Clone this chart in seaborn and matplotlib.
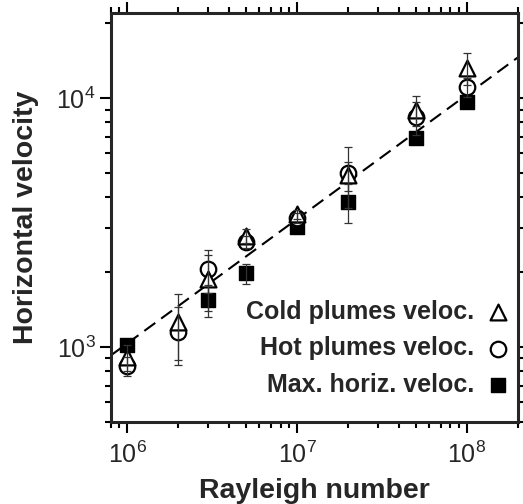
import matplotlib
matplotlib.use('Agg')
import matplotlib.pyplot as plt
import numpy as np
import seaborn as sns

# Rayleigh numbers of the runs
rayleigh = [1e6, 2e6, 3e6, 5e6, 1e7, 2e7, 5e7, 1e8]

# Cold plumes velocity (triangles) and error
cold_vel = [910, 1260, 1870, 2800, 3420, 4900, 8950, 13200]
cold_err = [110, 370, 470, 180, 150, 650, 1250, 1950]

# Hot plumes velocity (circles) and error
hot_vel = [840, 1150, 2050, 2650, 3300, 5000, 8400, 11100]
hot_err = [75, 300, 400, 150, 150, 1380, 1300, 1000]

# Max. horizontal velocity (squares) and error
max_ra = [1e6, 3e6, 5e6, 1e7, 2e7, 5e7, 1e8]
max_vel = [1020, 1550, 1980, 3050, 3840, 6900, 9700]
max_err = [0, 230, 180, 0, 680, 0, 0]

# Dashed fit line, end points
fit_ra = [8e5, 2e8]
fit_vel = [925, 14600]

sns.set_theme(style='ticks')
plt.rcParams['font.family'] = ['Liberation Sans', 'DejaVu Sans']
plt.rcParams['mathtext.fontset'] = 'custom'
plt.rcParams['mathtext.rm'] = 'Liberation Sans'
plt.rcParams['axes.linewidth'] = 2.2

fig = plt.figure(figsize=(5.23, 5.04), dpi=100)
ax = fig.add_axes([0.2117, 0.1627, 0.7787, 0.8115])

sns.lineplot(x=fit_ra, y=fit_vel, color='black', linestyle=(0, (6.5, 3.5)),
             linewidth=1.5, ax=ax, zorder=2)

sns.scatterplot(x=max_ra, y=max_vel, marker='s', s=95, color='black',
                edgecolor='black', linewidth=1, ax=ax, zorder=3,
                label='Max. horiz. veloc.')
sns.scatterplot(x=rayleigh, y=hot_vel, marker='o', s=125, color='white',
                edgecolor='black', linewidth=1.6, ax=ax, zorder=4,
                label='Hot plumes veloc.')
sns.scatterplot(x=rayleigh, y=cold_vel, marker='^', s=130, color='white',
                edgecolor='black', linewidth=1.6, ax=ax, zorder=5,
                label='Cold plumes veloc.')

# error bars on top of the markers
ebar = dict(fmt='none', ecolor='#333333', elinewidth=0.9, capsize=3, capthick=0.9, zorder=6)
ax.errorbar(rayleigh, cold_vel, yerr=cold_err, **ebar)
ax.errorbar(rayleigh, hot_vel, yerr=hot_err, **ebar)
m_ra = [r for r, e in zip(max_ra, max_err) if e > 0]
m_v = [v for v, e in zip(max_vel, max_err) if e > 0]
m_e = [e for e in max_err if e > 0]
ax.errorbar(m_ra, m_v, yerr=m_e, **ebar)

ax.set_xscale('log')
ax.set_yscale('log')
ax.set_xlim(8e5, 2e8)
ax.set_ylim(500, 22000)

ax.tick_params(which='both', direction='out', top=True, right=True,
               labelsize=18, color='black', width=1.5)
ax.tick_params(which='major', length=8, pad=3)
ax.tick_params(axis='x', which='major', pad=6)
ax.tick_params(which='minor', length=4)

ax.set_xlabel('Rayleigh number', fontsize=20.5, fontweight='bold', labelpad=7)
ax.set_ylabel('Horizontal velocity', fontsize=20.5, fontweight='bold', labelpad=12)

handles, labels = ax.get_legend_handles_labels()
order = [2, 1, 0]
ax.legend([handles[i] for i in order], [labels[i] for i in order],
          loc='lower right', bbox_to_anchor=(1.005, 0.037), markerfirst=False,
          frameon=False, prop={'weight': 'bold', 'size': 18},
          handlelength=1.0, handletextpad=0.42, labelspacing=0.5, borderaxespad=0)

fig.savefig('out.png', dpi=100)
